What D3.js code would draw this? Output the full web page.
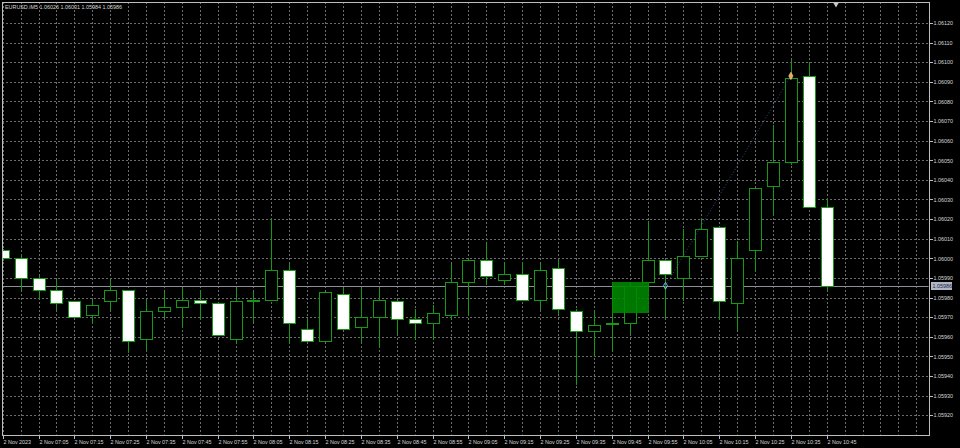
<!DOCTYPE html>
<html>
<head>
<meta charset="utf-8">
<script src="https://cdn.jsdelivr.net/npm/d3@7"></script>
<style>
  html, body { margin: 0; padding: 0; background: #000; }
  svg { display: block; }
  text { font-family: "Liberation Sans", Arial, sans-serif; fill: #d8d8d8; }
</style>
</head>
<body>
<div id="chart"></div>
<script>
const width = 960;
const height = 448;

const symbol = 'EURUSD.iM5';
const dayLabel = '2 Nov';
const firstLabel = '2 Nov 2023';

// M5 bars, 06:55 -> 10:45
const times = ['06:55', '07:00', '07:05', '07:10', '07:15', '07:20', '07:25', '07:30', '07:35', '07:40',
  '07:45', '07:50', '07:55', '08:00', '08:05', '08:10', '08:15', '08:20', '08:25', '08:30',
  '08:35', '08:40', '08:45', '08:50', '08:55', '09:00', '09:05', '09:10', '09:15', '09:20',
  '09:25', '09:30', '09:35', '09:40', '09:45', '09:50', '09:55', '10:00', '10:05', '10:10',
  '10:15', '10:20', '10:25', '10:30', '10:35', '10:40', '10:45'];
const open = [1.06004, 1.06000, 1.05990, 1.05984, 1.05978, 1.05971, 1.05978, 1.05984, 1.05959, 1.05973,
  1.05975, 1.05979, 1.05977, 1.05959, 1.05978, 1.05979, 1.05994, 1.05964, 1.05958, 1.05982,
  1.05965, 1.05970, 1.05978, 1.05969, 1.05967, 1.05971, 1.05988, 1.05999, 1.05989, 1.05992,
  1.05979, 1.05995, 1.05973, 1.05963, 1.05967, 1.05967, 1.05988, 1.05999, 1.05990, 1.06001,
  1.06016, 1.05977, 1.06004, 1.06037, 1.06049, 1.06093, 1.06026];
const high = [1.06005, 1.06002, 1.05991, 1.05989, 1.05978, 1.05979, 1.05989, 1.05984, 1.05979, 1.05983,
  1.05985, 1.05984, 1.05977, 1.05985, 1.05983, 1.06020, 1.05997, 1.05969, 1.05983, 1.05985,
  1.05985, 1.05985, 1.05979, 1.05974, 1.05976, 1.05997, 1.06000, 1.06008, 1.05998, 1.05998,
  1.05997, 1.05999, 1.05974, 1.05973, 1.05988, 1.05988, 1.06019, 1.05999, 1.06015, 1.06020,
  1.06016, 1.06009, 1.06036, 1.06068, 1.06101, 1.06100, 1.06031];
const low = [1.05999, 1.05984, 1.05980, 1.05974, 1.05970, 1.05967, 1.05974, 1.05952, 1.05953, 1.05970,
  1.05965, 1.05969, 1.05961, 1.05957, 1.05968, 1.05979, 1.05957, 1.05958, 1.05958, 1.05964,
  1.05958, 1.05955, 1.05962, 1.05959, 1.05959, 1.05969, 1.05971, 1.05987, 1.05987, 1.05979,
  1.05974, 1.05972, 1.05936, 1.05950, 1.05953, 1.05962, 1.05984, 1.05970, 1.05979, 1.06001,
  1.05969, 1.05964, 1.05994, 1.06022, 1.06048, 1.06026, 1.05984];
const close = [1.06000, 1.05990, 1.05984, 1.05977, 1.05970, 1.05976, 1.05984, 1.05958, 1.05973, 1.05975,
  1.05979, 1.05977, 1.05961, 1.05978, 1.05979, 1.05994, 1.05967, 1.05958, 1.05983, 1.05964,
  1.05970, 1.05979, 1.05969, 1.05967, 1.05972, 1.05988, 1.05999, 1.05991, 1.05992, 1.05979,
  1.05994, 1.05974, 1.05963, 1.05966, 1.05967, 1.05986, 1.05999, 1.05992, 1.06001, 1.06015,
  1.05978, 1.06000, 1.06036, 1.06049, 1.06092, 1.06026, 1.05986];

// price axis ticks
const priceTicks = d3.range(0, 21).map(i => +(1.05920 + i * 0.0001).toFixed(5));

// chart objects: rectangle (bar index / price), trend line, arrows
const boxBars = [34, 36];
const boxPrices = [1.05972, 1.05988];
const trendBars = [37, 44];
const trendPrices = [1.05986, 1.06093];

const frame = { left: 2, top: 2, right: 929, bottom: 435 };
const slots = 52; // bar slots incl. the empty shift area on the right

const x = d3.scaleLinear().domain([0, 46]).range([2.7, 826.7]);
const y = d3.scaleLinear().domain([1.05920, 1.06120]).range([415.2, 23]);
const px = v => Math.round(v) + 0.5;

const bars = times.map((t, i) => ({ i, t, o: open[i], h: high[i], l: low[i], c: close[i] }));
const last = bars[bars.length - 1];

const svg = d3.select('#chart').append('svg')
  .attr('width', width)
  .attr('height', height);

svg.append('rect').attr('width', width).attr('height', height).attr('fill', '#000');

svg.append('clipPath').attr('id', 'plot')
  .append('rect')
    .attr('x', frame.left + 0.5).attr('y', frame.top + 0.5)
    .attr('width', frame.right - frame.left - 1)
    .attr('height', frame.bottom - frame.top - 1);

const plot = svg.append('g').attr('clip-path', 'url(#plot)');

// grid
const grid = plot.append('g')
  .attr('stroke', '#6c6c6c')
  .attr('stroke-width', 1)
  .attr('stroke-dasharray', '2,2')
  .attr('shape-rendering', 'crispEdges');
grid.selectAll('.gx').data(d3.range(0, slots)).join('line')
  .attr('x1', d => px(x(d))).attr('x2', d => px(x(d)))
  .attr('y1', frame.top).attr('y2', frame.bottom);
grid.selectAll('.gy').data(priceTicks).join('line')
  .attr('x1', frame.left).attr('x2', frame.right)
  .attr('y1', d => px(y(d))).attr('y2', d => px(y(d)));

// bid line
plot.append('line')
  .attr('x1', frame.left).attr('x2', frame.right)
  .attr('y1', px(y(last.c))).attr('y2', px(y(last.c)))
  .attr('stroke', '#8a8f98')
  .attr('stroke-width', 1)
  .attr('shape-rendering', 'crispEdges');

// candles
const candle = plot.append('g').selectAll('g').data(bars).join('g');
candle.append('line')
  .attr('x1', d => px(x(d.i))).attr('x2', d => px(x(d.i)))
  .attr('y1', d => Math.round(y(d.h))).attr('y2', d => Math.round(y(d.l)) + 1)
  .attr('stroke', '#169a16')
  .attr('shape-rendering', 'crispEdges');
candle.append('rect')
  .attr('x', d => px(x(d.i)) - 6)
  .attr('width', 12)
  .attr('y', d => px(y(Math.max(d.o, d.c))))
  .attr('height', d => Math.max(0.6, Math.round(y(Math.min(d.o, d.c))) - Math.round(y(Math.max(d.o, d.c)))))
  .attr('fill', d => d.c > d.o ? '#000' : '#fff')
  .attr('stroke', '#169a16')
  .attr('shape-rendering', 'crispEdges');

// rectangle object
plot.append('rect')
  .attr('x', Math.round(x(boxBars[0])))
  .attr('width', Math.round(x(boxBars[1])) - Math.round(x(boxBars[0])) + 1)
  .attr('y', Math.round(y(boxPrices[1])))
  .attr('height', Math.round(y(boxPrices[0])) - Math.round(y(boxPrices[1])))
  .attr('fill', '#008800')
  .attr('fill-opacity', 0.88);

// trend line with its two anchor marks
plot.append('line')
  .attr('x1', x(trendBars[0])).attr('y1', y(trendPrices[0]))
  .attr('x2', x(trendBars[1])).attr('y2', y(trendPrices[1]))
  .attr('stroke', '#34508c')
  .attr('stroke-width', 0.9)
  .attr('stroke-dasharray', '1,2');
plot.append('path')
  .attr('d', d3.symbol(d3.symbolDiamond, 14)())
  .attr('transform', `translate(${x(trendBars[0])},${y(trendPrices[0])})`)
  .attr('fill', 'none').attr('stroke', '#7fb0ee').attr('stroke-width', 1);
plot.append('path')
  .attr('d', d3.symbol(d3.symbolDiamond, 16)())
  .attr('transform', `translate(${x(trendBars[1])},${y(trendPrices[1])})`)
  .attr('fill', '#e8a860').attr('stroke', '#f6d29a').attr('stroke-width', 0.6);

// shift marker at the top
svg.append('path')
  .attr('d', d3.symbol(d3.symbolTriangle, 12)())
  .attr('transform', `translate(836,4.5) rotate(180)`)
  .attr('fill', '#c8c8c8');

// frame
svg.append('rect')
  .attr('x', frame.left + 0.5).attr('y', frame.top + 0.5)
  .attr('width', frame.right - frame.left)
  .attr('height', frame.bottom - frame.top)
  .attr('fill', 'none')
  .attr('stroke', '#bdbdbd')
  .attr('shape-rendering', 'crispEdges');

// price axis
const yAxis = d3.axisRight(y)
  .tickValues(priceTicks)
  .tickFormat(d3.format('.5f'))
  .tickSize(3)
  .tickPadding(1);
const gy = svg.append('g')
  .attr('transform', `translate(${frame.right + 0.5},0)`)
  .call(yAxis);
gy.select('.domain').remove();
gy.selectAll('.tick line').attr('stroke', '#bdbdbd').attr('shape-rendering', 'crispEdges');
gy.selectAll('.tick text').attr('font-size', 5.4).attr('fill', '#d8d8d8');

// bid label
const bidY = y(last.c);
svg.append('rect')
  .attr('x', frame.right + 2).attr('y', Math.round(bidY) - 4)
  .attr('width', 21).attr('height', 8)
  .attr('fill', '#aeb6c6');
svg.append('text')
  .attr('x', frame.right + 3.5).attr('y', bidY + 2)
  .attr('font-size', 5.4)
  .style('fill', '#1c2640')
  .text(d3.format('.5f')(last.c));

// time axis
const labelIdx = d3.range(0, slots).filter(i => i % 2 === 0 && i < times.length);
const xAxis = d3.axisBottom(x)
  .tickValues(labelIdx)
  .tickFormat(i => i === 0 ? firstLabel : `${dayLabel} ${times[i]}`)
  .tickSize(3)
  .tickPadding(2);
const gx = svg.append('g')
  .attr('transform', `translate(0,${frame.bottom + 0.5})`)
  .call(xAxis);
gx.select('.domain').remove();
gx.selectAll('.tick').attr('transform', d => `translate(${px(x(d))},0)`);
gx.selectAll('.tick line').attr('stroke', '#bdbdbd').attr('shape-rendering', 'crispEdges');
gx.selectAll('.tick text')
  .attr('font-size', 5.4)
  .attr('text-anchor', 'start')
  .attr('x', 0)
  .attr('fill', '#d8d8d8');

// header
svg.append('text')
  .attr('x', 5).attr('y', 8.5)
  .attr('font-size', 5.4)
  .text(`${symbol}  ${[last.o, last.h, last.l, last.c].map(d3.format('.5f')).join(' ')}`);
</script>
</body>
</html>
